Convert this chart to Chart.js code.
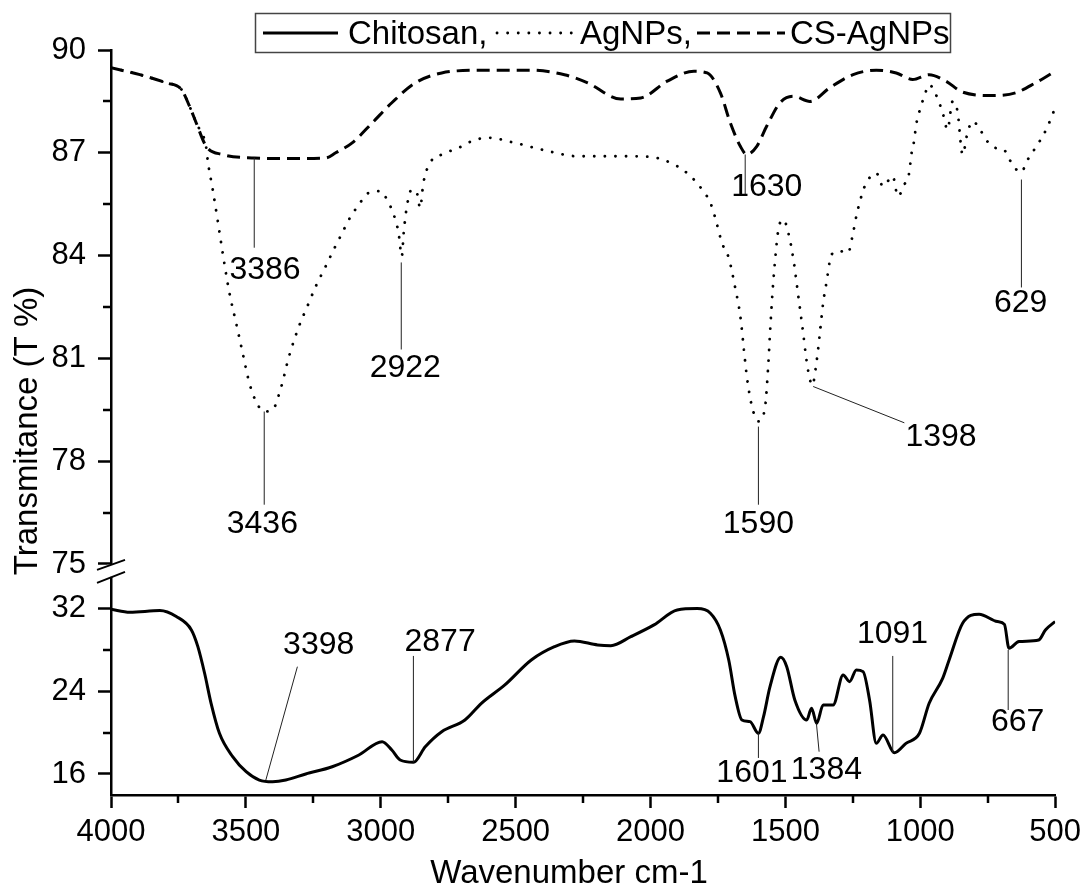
<!DOCTYPE html>
<html><head><meta charset="utf-8">
<script src="https://cdn.jsdelivr.net/npm/chart.js@4.4.1/dist/chart.umd.min.js"></script>
<style>html,body{margin:0;padding:0;background:#fff}#wrap{width:1087px;height:886px;position:relative}</style>
</head><body><div id="wrap"><canvas id="c"></canvas></div>
<script>
const FONT = '"Liberation Sans", Arial, Helvetica, sans-serif';

// ---- data ----
const seriesNames = ['Chitosan', 'AgNPs', 'CS-AgNPs'];
const legendTexts = ['Chitosan,', 'AgNPs,', 'CS-AgNPs'];
const xTicks = [4000, 3500, 3000, 2500, 2000, 1500, 1000, 500];
const xMinorTicks = [3750, 3250, 2750, 2250, 1750, 1250, 750];
const upperTicks = [75, 78, 81, 84, 87, 90];
const upperMinorTicks = [76.5, 79.5, 82.5, 85.5, 88.5];
const lowerTicks = [16, 24, 32];
const lowerMinorTicks = [20, 28];

const chitosanWn = [4000,3930,3819,3758,3702,3678,3653,3629,3598,3549,3499,3450,3401,3352,3278,3180,3081,2995,2959,2928,2879,2835,2774,2688,2627,2540,2442,2356,2282,2196,2147,2073,1987,1901,1827,1778,1741,1710,1686,1661,1631,1600,1581,1557,1517,1495,1465,1421,1403,1384,1360,1323,1286,1262,1237,1212,1188,1163,1138,1096,1053,1003,967,917,893,843,782,714,688,671,634,561,536,500];
const chitosanT  = [31.97,31.68,31.84,31.26,29.96,28.34,25.76,22.85,19.94,17.68,16.22,15.41,15.25,15.41,16.0,16.70,17.84,19.13,18.32,17.35,17.13,18.64,20.10,21.23,22.85,24.63,27.05,28.34,28.90,28.51,28.44,29.31,30.45,31.90,32.03,31.58,29.96,27.05,23.49,21.23,21.07,19.94,21.55,24.46,27.31,26.40,23.17,21.23,22.37,20.91,22.69,22.69,25.60,24.95,26.08,25.92,23.17,18.97,19.78,18.06,18.97,19.94,22.85,25.27,27.05,30.61,31.49,30.77,30.5,28.19,28.83,28.99,29.96,30.77];

const agWn = [4000,3893,3795,3739,3709,3684,3647,3641,3623,3604,3586,3561,3536,3512,3487,3463,3432,3401,3370,3340,3303,3272,3241,3204,3174,3143,3118,3081,3045,3001,2971,2952,2934,2922,2915,2903,2885,2866,2854,2842,2817,2774,2712,2663,2602,2503,2380,2270,2110,2000,1901,1852,1809,1778,1760,1735,1710,1686,1667,1655,1643,1624,1600,1575,1563,1557,1547,1538,1526,1507,1489,1470,1452,1434,1422,1409,1400,1385,1372,1360,1348,1329,1299,1268,1249,1237,1225,1206,1163,1138,1102,1083,1059,1040,1034,1022,1016,1003,985,967,942,917,899,880,862,843,825,806,782,757,720,690,665,628,598,561,530,505,500];
const agT  = [89.48,89.28,89.04,88.85,88.36,87.87,87.15,86.75,85.93,85.0,84.08,82.91,82.03,81.16,80.28,79.75,79.45,79.5,80.14,81.06,81.94,82.52,83.10,83.69,84.18,84.66,85.05,85.49,85.83,85.88,85.54,85.20,84.66,83.98,84.66,85.44,85.93,85.83,85.39,86.12,86.71,86.95,87.14,87.34,87.44,87.29,87.05,86.90,86.90,86.88,86.61,86.32,85.93,85.54,85.10,84.37,83.93,83.06,82.23,81.35,80.48,79.60,79.16,79.60,80.87,81.74,83.01,83.88,84.76,85.05,84.66,83.88,82.81,81.74,80.96,80.38,80.22,80.87,81.74,82.62,83.20,84.03,84.13,84.08,84.66,85.15,85.54,86.02,86.41,86.02,86.32,85.73,86.07,86.46,86.90,87.39,87.78,88.21,88.65,88.99,88.70,88.17,87.68,88.50,88.21,86.95,87.58,87.92,87.73,87.39,87.14,87.09,86.75,86.43,86.85,87.29,87.73,88.21,88.3];

const csWn = [4000,3893,3795,3739,3709,3684,3647,3586,3469,3327,3204,3167,3106,3032,2959,2872,2774,2627,2443,2319,2233,2110,2036,1938,1839,1790,1741,1704,1667,1643,1606,1569,1520,1470,1409,1335,1249,1163,1089,1028,967,905,843,733,647,573,500];
const csT  = [89.48,89.28,89.04,88.85,88.36,87.87,87.19,86.95,86.85,86.83,86.85,87.0,87.29,87.87,88.46,89.04,89.33,89.41,89.41,89.28,89.04,88.57,88.60,89.09,89.38,89.33,88.75,87.87,87.19,86.95,87.19,87.78,88.46,88.65,88.5,88.9,89.28,89.41,89.33,89.14,89.28,89.09,88.77,88.67,88.75,89.04,89.38];

// peak annotations (data units): text, axis, leader from, leader to, text centre
const peakText = ['3386','3436','2922','1630','1590','1398','629','3398','2877','1601','1384','1091','667'];
const peakAxis = ['yU','yU','yU','yU','yU','yU','yU','yL','yL','yL','yL','yL','yL'];
const peakFrom = [[3469,86.86],[3432,79.45],[2924,83.80],[1649,86.95],[1600,79.01],[1397,80.18],[625,86.22],[3426,15.41],[2879,17.13],[1600,19.97],[1385,20.91],[1102,27.44],[674,28.02]];
const peakTo   = [[3469,84.23],[3432,76.73],[2924,81.26],[1649,85.75],[1600,76.73],[1059,79.12],[625,83.07],[3309,26.40],[2879,27.44],[1600,17.55],[1375,18.16],[1102,18.06],[674,22.20]];
const peakAt   = [[3429,83.59],[3439,76.18],[2909,80.73],[1569,86.04],[1600,76.18],[923,78.72],[628,82.63],[3230,28.56],[2780,28.90],[1624,16.14],[1348,16.48],[1103,29.67],[639,21.09]];

function pts(xs, ys){ return xs.map((x,i)=>({x:x, y:ys[i]})); }

const decor = {
  id: 'decor',
  afterDraw(chart){
    const ctx = chart.ctx, ca = chart.chartArea;
    const sx = chart.scales.x, su = chart.scales.yU, sl = chart.scales.yL;
    ctx.save();
    ctx.strokeStyle = '#000'; ctx.fillStyle = '#000';
    // minor ticks
    ctx.lineWidth = 2.5;
    ctx.beginPath();
    xMinorTicks.forEach(v=>{ const p = Math.round(sx.getPixelForValue(v)); ctx.moveTo(p, ca.bottom); ctx.lineTo(p, ca.bottom+8); });
    upperMinorTicks.forEach(v=>{ const p = Math.round(su.getPixelForValue(v)); ctx.moveTo(ca.left, p); ctx.lineTo(ca.left-8, p); });
    lowerMinorTicks.forEach(v=>{ const p = Math.round(sl.getPixelForValue(v)); ctx.moveTo(ca.left, p); ctx.lineTo(ca.left-8, p); });
    ctx.stroke();
    // axis break
    const yb = su.bottom;
    ctx.fillStyle = '#fff';
    ctx.fillRect(ca.left-4, yb-6, 8, 12);
    ctx.lineWidth = 2;
    ctx.beginPath();
    ctx.moveTo(ca.left-14, yb-1); ctx.lineTo(ca.left+14, yb-11);
    ctx.moveTo(ca.left-14, yb+12); ctx.lineTo(ca.left+14, yb+1);
    ctx.stroke();
    // peak annotations
    ctx.strokeStyle = '#222'; ctx.lineWidth = 1;
    ctx.fillStyle = '#000';
    ctx.font = '32px ' + FONT;
    ctx.textAlign = 'center'; ctx.textBaseline = 'middle';
    peakText.forEach((t,i)=>{
      const s = chart.scales[peakAxis[i]];
      ctx.beginPath();
      ctx.moveTo(sx.getPixelForValue(peakFrom[i][0]), s.getPixelForValue(peakFrom[i][1]));
      ctx.lineTo(sx.getPixelForValue(peakTo[i][0]), s.getPixelForValue(peakTo[i][1]));
      ctx.stroke();
      ctx.fillText(t, sx.getPixelForValue(peakAt[i][0]), s.getPixelForValue(peakAt[i][1])+1);
    });
    // axis titles
    ctx.font = '33px ' + FONT;
    ctx.textBaseline = 'alphabetic';
    ctx.fillText('Wavenumber cm-1', 569, 883);
    ctx.save();
    ctx.translate(37, 431); ctx.rotate(-Math.PI/2);
    ctx.fillText('Transmitance (T %)', 0, 0);
    ctx.restore();
    // legend
    ctx.fillStyle = '#fff';
    ctx.fillRect(255, 13, 696, 40);
    ctx.strokeStyle = '#444'; ctx.lineWidth = 1.5;
    ctx.strokeRect(255.5, 13.5, 695, 39);
    const ly = 33;
    const ds = chart.data.datasets;
    const samples = [[263,338,348],[497,577,580],[697,785,790]];
    ctx.font = '33px ' + FONT; ctx.textAlign = 'left'; ctx.textBaseline = 'middle';
    samples.forEach((s,i)=>{
      const d = ds[i];
      ctx.strokeStyle = '#000'; ctx.lineWidth = d.borderWidth;
      ctx.lineCap = d.borderCapStyle || 'butt';
      ctx.setLineDash(d.borderDash || []);
      ctx.beginPath(); ctx.moveTo(s[0], ly); ctx.lineTo(s[1], ly); ctx.stroke();
      ctx.setLineDash([]);
      ctx.fillStyle = '#000';
      ctx.fillText(legendTexts[i], s[2], ly+2);
    });
    ctx.restore();
  }
};

const tickFont = {family: FONT, size: 31};
const plain = v => String(v);
new Chart(document.getElementById('c'), {
  type: 'line',
  data: {
    datasets: [
      {label: seriesNames[0], data: pts(chitosanWn, chitosanT), yAxisID: 'yL', borderColor: '#000', borderWidth: 3, pointRadius: 0, cubicInterpolationMode: 'monotone', fill: false},
      {label: seriesNames[1], data: pts(agWn, agT), yAxisID: 'yU', borderColor: '#000', borderWidth: 2.8, borderDash: [0.1, 10.5], borderCapStyle: 'round', pointRadius: 0, cubicInterpolationMode: 'monotone', fill: false},
      {label: seriesNames[2], data: pts(csWn, csT), yAxisID: 'yU', borderColor: '#000', borderWidth: 3, borderDash: [13, 7], pointRadius: 0, cubicInterpolationMode: 'monotone', fill: false}
    ]
  },
  options: {
    responsive: true, maintainAspectRatio: false, animation: false, events: [],
    layout: {padding: {top: 50, right: 27, left: 0, bottom: 0}},
    plugins: {legend: {display: false}, tooltip: {enabled: false}},
    scales: {
      x: {
        type: 'linear', reverse: true, min: 500, max: 4000, position: 'bottom',
        afterBuildTicks(s){ s.ticks = xTicks.map(v=>({value: v})); },
        afterFit(s){ s.height = 91; },
        border: {display: true, color: '#000', width: 2.5},
        grid: {drawOnChartArea: false, drawTicks: true, tickLength: 13, tickWidth: 2.5, tickColor: '#000'},
        ticks: {font: tickFont, color: '#000', padding: 6, maxRotation: 0, callback: plain}
      },
      yL: {
        type: 'linear', position: 'left', stack: 'ir', stackWeight: 224, min: 13.96, max: 35.69,
        afterBuildTicks(s){ s.ticks = lowerTicks.map(v=>({value: v})); },
        afterFit(s){ s.width = 111; },
        border: {display: true, color: '#000', width: 2.5},
        grid: {drawOnChartArea: false, drawTicks: true, tickLength: 13, tickWidth: 2.5, tickColor: '#000'},
        ticks: {font: tickFont, color: '#000', padding: 12, callback: plain}
      },
      yU: {
        type: 'linear', position: 'left', stack: 'ir', stackWeight: 520.5, min: 74.8, max: 90,
        afterBuildTicks(s){ s.ticks = upperTicks.map(v=>({value: v})); },
        afterFit(s){ s.width = 111; },
        border: {display: true, color: '#000', width: 2.5},
        grid: {drawOnChartArea: false, drawTicks: true, tickLength: 13, tickWidth: 2.5, tickColor: '#000'},
        ticks: {font: tickFont, color: '#000', padding: 12, callback: plain}
      }
    }
  },
  plugins: [decor]
});
</script>
</body></html>
